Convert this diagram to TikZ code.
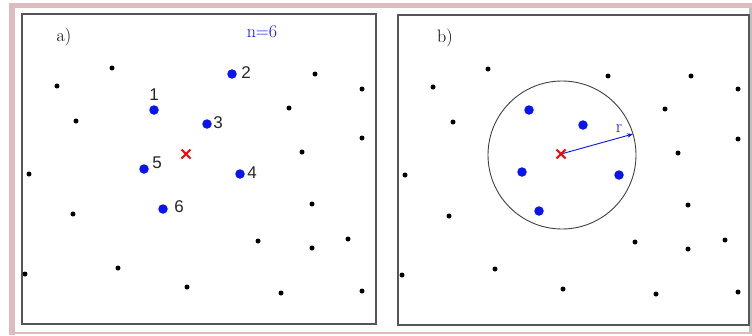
\documentclass[tikz,border=0pt]{standalone}
\usepackage{fontspec}
\newfontfamily\numfont{Liberation Sans}
\usetikzlibrary{arrows.meta}
\definecolor{pinkfr}{RGB}{221,188,192}
\definecolor{boxgray}{RGB}{85,85,85}
\definecolor{ptblue}{RGB}{10,20,240}
\tikzset{
  blk/.style={circle,fill=black,inner sep=0pt,minimum size=5pt},
  blu/.style={circle,fill=ptblue,inner sep=0pt,minimum size=9.5pt},
  num/.style={font=\numfont\fontsize{17}{17}\selectfont,text=black!85,inner sep=0pt},
  lbl/.style={font=\fontsize{18}{18}\selectfont,inner sep=0pt},
  panel/.style={draw=boxgray,line width=1.3pt},
  crossmk/.style={draw=red,line width=2pt},
}
\newcommand{\crossat}[2]{\draw[crossmk] (#1-4.5,-#2+4.5) -- (#1+4.5,-#2-4.5) (#1-4.5,-#2-4.5) -- (#1+4.5,-#2+4.5);}
\begin{document}
\begin{tikzpicture}[x=1pt,y=1pt]
\useasboundingbox (0,0) rectangle (752,-335);
\fill[white] (0,0) rectangle (752,-335);
% frame
\fill[pinkfr] (9,-3) rectangle (752,-7.5);
\fill[pinkfr] (9,-3) rectangle (14.5,-335);
\fill[pinkfr] (14.5,-332) rectangle (752,-334);
\fill[black!25] (749,-8) rectangle (752,-332);
% panels
\draw[panel] (22,-14) rectangle (376,-324);
\draw[panel] (398,-15) rectangle (749,-325);
% panel a
\node[lbl] (la) at (64,-37) {a)};
\node[lbl,text=ptblue] (nlab) at (262,-32) {n=6};
\foreach \x/\y [count=\i] in {112/68,57/86,76/121,29/174,73/214,25/274,118/268,187/287,281/293,362/291,258/241,312/248,348/239,312/204,302/152,362/138,289/108,315/74,362/89}
  \node[blk] (a\i) at (\x,-\y) {};
\node[blu] (p1) at (154,-110) {};
\node[blu] (p2) at (232,-74) {};
\node[blu] (p3) at (207,-124) {};
\node[blu] (p4) at (240,-174) {};
\node[blu] (p5) at (144,-169) {};
\node[blu] (p6) at (163,-209) {};
\node[num] (n1) at (154,-95) {1};
\node[num] (n2) at (246,-73) {2};
\node[num] (n3) at (218,-123) {3};
\node[num] (n4) at (252,-173) {4};
\node[num] (n5) at (157,-163) {5};
\node[num] (n6) at (179,-207) {6};
\crossat{186}{154}
% panel b
\node[lbl] (lb) at (445,-38) {b)};
\foreach \x/\y [count=\i] in {488/69,433/87,453/122,405/175,449/216,402/275,495/269,563/289,656/294,738/292,635/242,688/249,725/240,688/205,678/153,738/139,665/109,691/76,738/89,608/76}
  \node[blk] (b\i) at (\x,-\y) {};
\node[blu] (q1) at (529,-110) {};
\node[blu] (q2) at (583,-125) {};
\node[blu] (q3) at (522,-172) {};
\node[blu] (q4) at (619,-175) {};
\node[blu] (q5) at (539,-211) {};
\coordinate (ctr) at (561,-154);
\draw[black!75,line width=0.9pt] (562,-155) circle (74);
\coordinate (rim) at (633,-134);
\draw[ptblue,line width=0.9pt,-{Stealth[length=6pt,width=4.5pt]}] (ctr) -- (rim);
\node[lbl,text=ptblue] (rl) at (619,-129) {r};
\crossat{561}{154}
\end{tikzpicture}
\end{document}
